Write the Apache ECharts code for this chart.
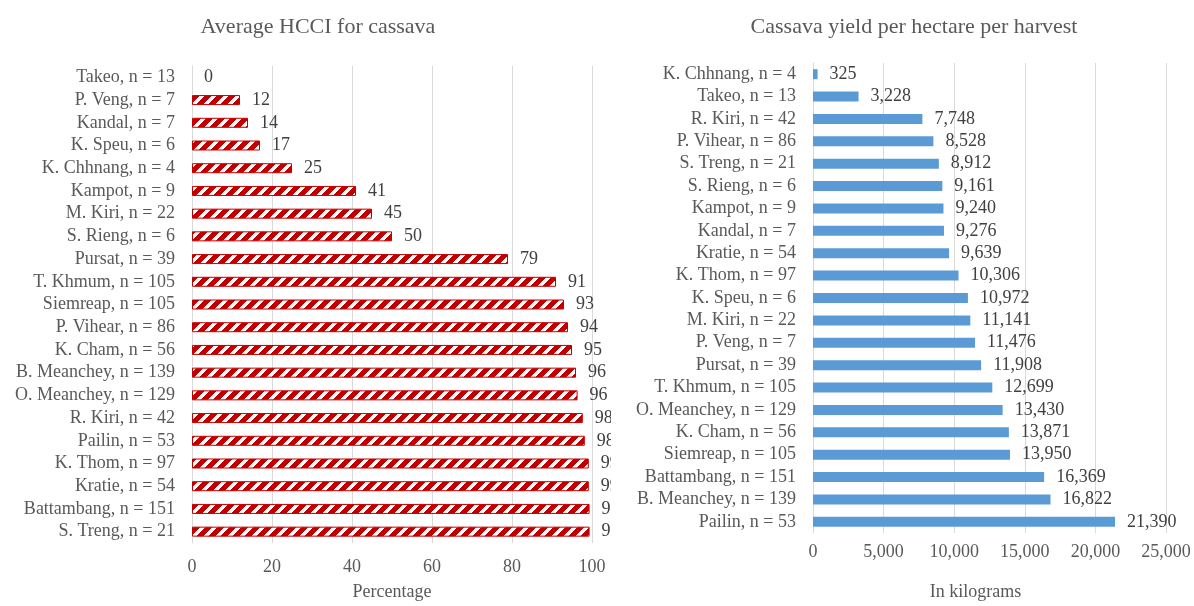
<!DOCTYPE html>
<html><head><meta charset="utf-8">
<script src="https://cdn.jsdelivr.net/npm/echarts@6/dist/echarts.min.js"></script>
<style>
html,body{margin:0;padding:0;background:#fff;}
#wrap{position:relative;width:1194px;height:606px;overflow:hidden;}
#left{position:absolute;left:0;top:0;width:611px;height:606px;}
#right{position:absolute;left:611px;top:0;width:583px;height:606px;}
</style></head>
<body><div id="wrap"><div id="left"></div><div id="right"></div></div>
<script>
// Left chart: Average HCCI for cassava (percentage)
const hcciCategories = ["Takeo, n = 13","P. Veng, n = 7","Kandal, n = 7","K. Speu, n = 6","K. Chhnang, n = 4","Kampot, n = 9","M. Kiri, n = 22","S. Rieng, n = 6","Pursat, n = 39","T. Khmum, n = 105","Siemreap, n = 105","P. Vihear, n = 86","K. Cham, n = 56","B. Meanchey, n = 139","O. Meanchey, n = 129","R. Kiri, n = 42","Pailin, n = 53","K. Thom, n = 97","Kratie, n = 54","Battambang, n = 151","S. Treng, n = 21"];
const hcciValues = [0,12,14,17,25,41,45,50,79,91,93,94,95,96,96.4,97.7,98.2,99.2,99.2,99.4,99.4];
const hcciTicks = [0,20,40,60,80,100];

// Right chart: Cassava yield per hectare per harvest (kg)
const yieldCategories = ["K. Chhnang, n = 4","Takeo, n = 13","R. Kiri, n = 42","P. Vihear, n = 86","S. Treng, n = 21","S. Rieng, n = 6","Kampot, n = 9","Kandal, n = 7","Kratie, n = 54","K. Thom, n = 97","K. Speu, n = 6","M. Kiri, n = 22","P. Veng, n = 7","Pursat, n = 39","T. Khmum, n = 105","O. Meanchey, n = 129","K. Cham, n = 56","Siemreap, n = 105","Battambang, n = 151","B. Meanchey, n = 139","Pailin, n = 53"];
const yieldValues = [325,3228,7748,8528,8912,9161,9240,9276,9639,10306,10972,11141,11476,11908,12699,13430,13871,13950,16369,16822,21390];
const yieldTicks = [0,5000,10000,15000,20000,25000];

const FONT = '"Liberation Serif", "Times New Roman", serif';
const GREY = '#595959';
const GRID = '#d9d9d9';

function hatch(){
  const S = 12, c = document.createElement('canvas');
  c.width = S; c.height = S;
  const ctx = c.getContext('2d');
  const img = ctx.createImageData(S,S);
  for(let y=0;y<S;y++)for(let x=0;x<S;x++){
    const i=(y*S+x)*4;
    const red = ((x+y)%S) < 7;
    img.data[i]=red?192:255; img.data[i+1]=red?0:255; img.data[i+2]=red?0:255; img.data[i+3]=255;
  }
  ctx.putImageData(img,0,0);
  return c;
}
const hatchPattern = {image:hatch(), repeat:'repeat'};

const fmtThousands = v => Math.round(v).toString().replace(/\B(?=(\d{3})+(?!\d))/g, ',');

const left = echarts.init(document.getElementById('left'));
left.setOption({
  animation:false,
  graphic:[{type:'text', x:318, y:27, style:{text:'Average HCCI for cassava', align:'center', verticalAlign:'middle', font:'22px '+FONT, fill:GREY}}],
  grid:{left:192, right:19, top:66, bottom:63},
  xAxis:{type:'value', min:hcciTicks[0], max:hcciTicks[hcciTicks.length-1], interval:hcciTicks[1]-hcciTicks[0],
    axisLine:{show:false}, axisTick:{show:false},
    splitLine:{lineStyle:{color:GRID, width:1}},
    axisLabel:{color:GREY, fontFamily:FONT, fontSize:18, margin:15},
    name:'Percentage', nameLocation:'middle', nameGap:40, nameTextStyle:{color:GREY, fontFamily:FONT, fontSize:18}},
  yAxis:{type:'category', data:hcciCategories, inverse:true,
    axisLine:{show:true, lineStyle:{color:GRID}}, axisTick:{show:false},
    axisLabel:{color:GREY, fontFamily:FONT, fontSize:18, margin:17, interval:0}},
  series:[{type:'bar', barWidth:10,
    data:hcciValues.map(v => v === 0 ? {value:v, itemStyle:{borderWidth:0}} : v),
    itemStyle:{color:hatchPattern, borderColor:'#C00000', borderWidth:1},
    label:{show:true, position:'right', distance:12, color:'#404040', fontFamily:FONT, fontSize:18, formatter:p=>Math.round(p.value)}}]
});

const right = echarts.init(document.getElementById('right'));
right.setOption({
  animation:false,
  graphic:[{type:'text', x:914-611, y:27, style:{text:'Cassava yield per hectare per harvest', align:'center', verticalAlign:'middle', font:'22px '+FONT, fill:GREY}}],
  grid:{left:202, right:28, top:63, bottom:68},
  xAxis:{type:'value', min:yieldTicks[0], max:yieldTicks[yieldTicks.length-1], interval:yieldTicks[1]-yieldTicks[0],
    axisLine:{show:false}, axisTick:{show:false},
    splitLine:{lineStyle:{color:GRID, width:1}},
    axisLabel:{color:GREY, fontFamily:FONT, fontSize:18, margin:10, formatter:v=>fmtThousands(v)},
    name:'In kilograms', nameLocation:'middle', nameGap:50, nameTextStyle:{color:GREY, fontFamily:FONT, fontSize:18, padding:[0,28,0,0]}},
  yAxis:{type:'category', data:yieldCategories, inverse:true,
    axisLine:{show:true, lineStyle:{color:GRID}}, axisTick:{show:false},
    axisLabel:{color:GREY, fontFamily:FONT, fontSize:18, margin:17, interval:0}},
  series:[{type:'bar', data:yieldValues, barWidth:10,
    itemStyle:{color:'#5B9BD5'},
    label:{show:true, position:'right', distance:12, color:'#404040', fontFamily:FONT, fontSize:18, formatter:p=>fmtThousands(p.value)}}]
});
</script></body></html>
